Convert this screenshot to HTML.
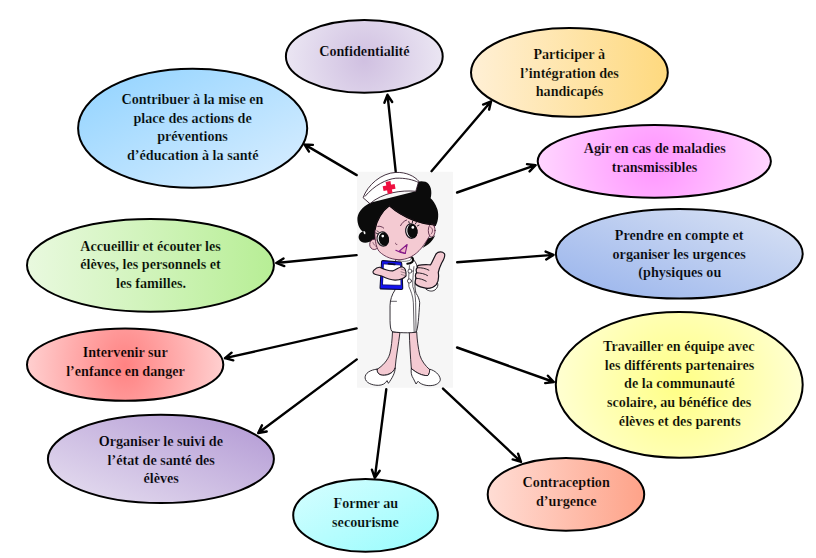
<!DOCTYPE html>
<html lang="fr">
<head>
<meta charset="utf-8">
<title>Missions de l’infirmière scolaire</title>
<style>
html,body{margin:0;padding:0;background:#fff;}
body{width:816px;height:558px;overflow:hidden;}
svg{display:block;}
.t{font-family:"Liberation Serif","Times New Roman",serif;font-weight:bold;font-size:14.15px;fill:#000;stroke-width:0.2px;}
.e{stroke:#000;stroke-width:2.0;}
.a{stroke:#000;stroke-width:2.4;fill:none;stroke-linecap:round;stroke-linejoin:round;}
</style>
</head>
<body>

<svg width="816" height="558" viewBox="0 0 816 558">
<defs>
<radialGradient id="g_conf" gradientUnits="userSpaceOnUse" cx="364.3" cy="60.4" r="79.4"><stop offset="0" stop-color="#d0c0e1"/><stop offset="1" stop-color="#ebe6f3"/></radialGradient>
<linearGradient id="g_contrib" gradientUnits="userSpaceOnUse" gradientTransform="matrix(231.10 0 0 121.00 77.10 67.80)" x1="0" y1="0" x2="1" y2="1"><stop offset="0" stop-color="#8fd2ff"/><stop offset="1" stop-color="#dcefff"/></linearGradient>
<linearGradient id="g_acc" gradientUnits="userSpaceOnUse" gradientTransform="matrix(248.90 0 0 94.80 26.00 217.90)" x1="0" y1="0" x2="1" y2="0"><stop offset="0" stop-color="#e9f9df"/><stop offset="1" stop-color="#b7ee95"/></linearGradient>
<radialGradient id="g_interv" gradientUnits="userSpaceOnUse" gradientTransform="translate(0 365.70) scale(1 1.3) translate(0 -365.70)" cx="125.15" cy="365.7" r="104.1"><stop offset="0" stop-color="#ff8282"/><stop offset="1" stop-color="#ffd4d4"/></radialGradient>
<linearGradient id="g_orga" gradientUnits="userSpaceOnUse" gradientTransform="matrix(228.00 0 0 90.20 46.90 413.80)" x1="1" y1="0" x2="0" y2="1"><stop offset="0" stop-color="#b096d3"/><stop offset="1" stop-color="#e8e1f1"/></linearGradient>
<linearGradient id="g_former" gradientUnits="userSpaceOnUse" gradientTransform="matrix(146.70 0 0 74.70 292.20 478.00)" x1="0" y1="0" x2="1" y2="1"><stop offset="0" stop-color="#d8feff"/><stop offset="1" stop-color="#96fcfd"/></linearGradient>
<linearGradient id="g_partic" gradientUnits="userSpaceOnUse" gradientTransform="matrix(198.80 0 0 90.80 470.00 27.00)" x1="0" y1="0" x2="1" y2="0"><stop offset="0" stop-color="#fff0d6"/><stop offset="1" stop-color="#fed97e"/></linearGradient>
<radialGradient id="g_agir" gradientUnits="userSpaceOnUse" cx="654.3" cy="161.35" r="117.6"><stop offset="0" stop-color="#ff94ff"/><stop offset="1" stop-color="#ffd6ff"/></radialGradient>
<linearGradient id="g_prendre" gradientUnits="userSpaceOnUse" gradientTransform="matrix(248.80 0 0 91.60 554.90 208.00)" x1="0" y1="1" x2="1" y2="0"><stop offset="0" stop-color="#96b2ec"/><stop offset="1" stop-color="#dce4f4"/></linearGradient>
<radialGradient id="g_trav" gradientUnits="userSpaceOnUse" cx="679.25" cy="384.85" r="124.5"><stop offset="0" stop-color="#ffff85"/><stop offset="1" stop-color="#ffffd2"/></radialGradient>
<linearGradient id="g_contra" gradientUnits="userSpaceOnUse" gradientTransform="matrix(158.50 0 0 74.80 486.70 457.00)" x1="0" y1="0" x2="1" y2="0"><stop offset="0" stop-color="#ffddd5"/><stop offset="1" stop-color="#fea288"/></linearGradient>
</defs>
<rect width="816" height="558" fill="#fff"/>
<g id="nurse">
<rect x="357.1" y="171.8" width="95.85" height="215.9" fill="#f6f6f6"/>
<g transform="translate(350,300) scale(0.134804)" stroke="#18141c" stroke-width="6.5" stroke-linejoin="round" stroke-linecap="round">
<!-- legs -->
<path fill="#f4cad2" d="M315 240 C312 300 308 350 295 400 C280 450 240 490 200 515 C200 545 220 560 255 558 C300 550 325 530 335 505 C340 430 360 330 370 245 Z"/>
<path fill="#f4cad2" d="M440 240 C442 320 448 420 455 508 C490 540 540 565 578 560 C590 545 592 530 590 515 C560 490 530 450 518 410 C505 350 498 300 495 240 Z"/>
<!-- shoes -->
<path fill="#fff" d="M200 513 C150 518 110 543 112 578 C115 613 160 633 210 633 C240 633 262 620 275 598 L285 618 C310 583 335 543 335 503 C320 540 290 556 255 558 C220 560 200 545 200 513 Z"/>
<path fill="#fff" d="M455 508 C450 533 455 563 470 583 L490 623 L505 603 C520 623 560 638 600 635 C640 633 670 613 670 588 C665 553 630 523 590 513 C592 530 590 545 578 560 C540 565 490 540 455 508 Z"/>
</g>
<g transform="translate(350,230) scale(0.134804)" stroke="#18141c" stroke-width="6.5" stroke-linejoin="round" stroke-linecap="round">
<!-- dress (torso + skirt) -->
<path fill="#fff" d="M340 215 C330 300 335 400 334 445 C310 480 298 520 297 560 L297 670 C298 710 300 735 310 751 C340 764 460 766 490 757 C505 735 510 640 517 540 C515 515 505 490 490 470 C480 440 480 400 485 380 L500 280 C495 250 480 225 460 210 Z"/>
<!-- cuff right -->
<path fill="#fff" d="M570 425 C600 435 630 420 650 395 C655 410 650 430 630 445 C610 458 585 455 565 440 Z"/>
<!-- placket -->
<path fill="none" stroke-width="5" d="M441 264 C436 320 434 380 437 420 C450 450 468 490 470 540 L476 757 M474 272 C468 330 464 390 466 420 C478 450 486 490 487 540 L490 755 M300 529 L345 529"/>
<circle cx="445" cy="305" r="15" fill="#fff" stroke-width="5"/>
<circle cx="441" cy="378" r="15" fill="#fff" stroke-width="5"/>
<!-- collar -->
<path fill="#fff" stroke-width="4" d="M335 210 C360 235 410 240 450 222 L455 205 Z"/>
<!-- stethoscope -->
<path fill="none" stroke="#0a0a0a" stroke-width="15" d="M425 250 C455 250 480 230 462 205"/>
<!-- clipboard -->
<path fill="#1414f0" stroke="#0a0a30" stroke-width="8" d="M245 227 L375 238 Q384 239 384 250 L391 430 Q391 442 380 441 L232 437 Q222 437 223 426 L234 238 Q235 226 245 227 Z"/>
<path fill="#fff" stroke="#0c0c50" stroke-width="5" d="M250 252 L374 260 L378 410 L244 407 Z"/>
<path fill="none" stroke="#0a0a30" stroke-width="13" d="M286 250 L332 255"/>
<!-- left arm -->
<path fill="#f4cad2" stroke-width="8" d="M176 300 C190 285 205 275 220 276 C250 290 290 305 320 303 C345 295 360 275 385 272 C405 275 418 300 416 340 C400 362 370 370 335 372 C300 372 260 355 235 342 L190 330 C170 325 165 312 176 300 Z"/>
<path fill="none" stroke-width="3" d="M380 290 L410 300 M378 310 L412 320 M380 330 L410 338"/>
<!-- right hand thumb up -->
<path fill="#f4cad2" stroke-width="9" d="M507 262 C540 255 575 258 598 258 C615 230 625 200 640 175 C655 160 685 158 700 175 C708 190 695 220 680 245 C668 270 660 290 655 315 C660 350 655 385 640 405 C615 430 580 438 545 428 C520 422 495 415 485 398 C480 380 488 365 490 355 C482 345 485 325 495 315 C488 300 492 285 500 278 C498 270 500 265 507 262 Z"/>
<path fill="none" stroke-width="7" d="M500 280 C530 278 560 285 585 298 M495 318 C525 318 555 325 575 338 M490 358 C520 360 545 368 565 380"/>
</g>
<g transform="translate(350,165) scale(0.134804)" stroke-linejoin="round" stroke-linecap="round">
<!-- hair back -->
<path fill="#0b0b0b" d="M150 280 C90 310 50 360 55 410 C58 450 75 480 95 495 C70 500 60 525 66 548 C75 575 110 585 140 572 C160 565 175 560 185 555 L634 452 C658 420 660 350 645 320 C635 290 615 262 598 247 C612 200 600 140 560 125 C535 118 515 120 505 125 L488 195 Z"/>
<path fill="#f5f5f5" d="M100 490 C108 488 118 498 114 512 C108 518 100 512 100 490 Z"/>
<!-- left ear -->
<ellipse cx="180" cy="589" rx="34" ry="38" fill="#f4cad2" stroke="#4a1838" stroke-width="6"/>
<!-- hair wedge under right ear -->
<path fill="#0b0b0b" d="M572 545 C590 545 615 535 632 522 C615 565 580 595 538 615 C555 590 568 568 572 545 Z"/>
<!-- face -->
<path fill="#f4cad2" stroke="#4a1838" stroke-width="6" d="M292 303 C240 340 195 410 186 480 C182 540 190 605 215 640 C260 685 320 705 378 702 C445 698 505 655 548 592 C580 545 610 500 630 445 C540 440 400 400 292 303 Z"/>
<path fill="none" stroke="#4a1838" stroke-width="4" d="M170 575 C175 590 185 600 195 605"/>
<!-- right ear -->
<ellipse cx="606" cy="486" rx="25" ry="48" fill="#f4cad2" stroke="#4a1838" stroke-width="6"/>
<path fill="none" stroke="#4a1838" stroke-width="5" d="M598 460 C615 470 618 495 602 512"/>
<!-- hairline overlay to hide face stroke at hair -->
<path fill="none" stroke="#0b0b0b" stroke-width="9" d="M186 480 C195 410 240 340 292 303 C400 400 540 440 634 447"/>
<!-- eyes -->
<ellipse cx="243" cy="549" rx="42" ry="53" fill="#fff" stroke="#1c1820" stroke-width="9" transform="rotate(-12 243 549)"/>
<ellipse cx="251" cy="550" rx="37" ry="50" fill="#0b0b0b" transform="rotate(-12 251 550)"/>
<circle cx="243" cy="527" r="10" fill="#fff"/>
<ellipse cx="455" cy="490" rx="42" ry="54" fill="#fff" stroke="#1c1820" stroke-width="9" transform="rotate(-8 455 490)"/>
<ellipse cx="463" cy="490" rx="38" ry="52" fill="#0b0b0b" transform="rotate(-8 463 490)"/>
<circle cx="466" cy="463" r="10" fill="#fff"/>
<!-- lashes -->
<path fill="none" stroke="#1c1820" stroke-width="7" d="M440 432 L436 420 M462 430 L464 418 M484 438 L492 426 M500 452 L512 446 M205 510 L192 504 M212 498 L202 488"/>
<!-- eyebrows -->
<path fill="none" stroke="#4a1838" stroke-width="6" d="M375 450 C385 430 400 415 420 408 M206 455 C222 452 238 458 250 468"/>
<!-- nose -->
<path fill="none" stroke="#4a1838" stroke-width="5" d="M338 580 C338 588 342 592 348 590"/>
<!-- mouth -->
<path fill="#f0b4c4" stroke="#851a88" stroke-width="8" d="M365 640 L424 590 L410 656 Z"/>
<path fill="none" stroke="#851a88" stroke-width="8" d="M340 633 C360 645 385 653 410 656"/>
<!-- hat -->
<path fill="#fff" stroke="#2a1626" stroke-width="6.5" d="M98 240 C130 150 230 60 340 55 C420 52 480 85 510 120 L488 195 C380 185 240 205 150 285 Z"/>
<path fill="none" stroke="#2a1626" stroke-width="6.5" d="M112 232 C180 150 270 105 340 98 C410 95 470 110 505 128"/>
<!-- red cross -->
<g transform="rotate(-10 290 167)" fill="#ee1040">
<rect x="272" y="122" width="36" height="90"/>
<rect x="245" y="149" width="90" height="36"/>
</g>
</g>
</g>

<g class="a">
<path d="M395.7 171.3L387.5 94.8M392.2 102.0L387.5 94.8L384.4 102.8"/>
<path d="M356.7 175.1L304.4 144.4M312.9 144.9L304.4 144.4L309.0 151.6"/>
<path d="M356.6 255.1L276.3 263.0M283.5 258.4L276.3 263.0L284.3 266.1"/>
<path d="M356.6 328.4L225.0 358.2M231.6 352.7L225.0 358.2L233.3 360.3"/>
<path d="M356.8 359.4L258.2 433.0M262.0 425.3L258.2 433.0L266.7 431.5"/>
<path d="M386.3 389.2L374.8 477.8M371.9 469.7L374.8 477.8L379.7 470.7"/>
<path d="M431.5 171.2L491.1 101.3M489.1 109.6L491.1 101.3L483.1 104.6"/>
<path d="M457.1 192.5L535.6 165.2M529.6 171.4L535.6 165.2L527.0 164.1"/>
<path d="M457.2 262.3L553.5 254.9M546.2 259.4L553.5 254.9L545.6 251.6"/>
<path d="M457.1 347.5L553.8 382.0M545.2 383.1L553.8 382.0L547.9 375.7"/>
<path d="M443.0 388.6L521.0 461.8M512.7 459.4L521.0 461.8L518.1 453.7"/>
</g>
<g class="e">
<ellipse cx="364.3" cy="56.4" rx="78.40" ry="36.40" fill="url(#g_conf)"/>
<ellipse cx="192.65" cy="128.3" rx="114.55" ry="59.50" fill="url(#g_contrib)"/>
<ellipse cx="150.45" cy="265.3" rx="123.45" ry="46.40" fill="url(#g_acc)"/>
<ellipse cx="125.15" cy="364.7" rx="98.15" ry="36.10" fill="url(#g_interv)"/>
<ellipse cx="160.9" cy="458.9" rx="113.00" ry="44.10" fill="url(#g_orga)"/>
<ellipse cx="365.55" cy="515.35" rx="72.35" ry="36.35" fill="url(#g_former)"/>
<ellipse cx="569.4" cy="72.4" rx="98.40" ry="44.40" fill="url(#g_partic)"/>
<ellipse cx="654.3" cy="161.35" rx="116.60" ry="36.35" fill="url(#g_agir)"/>
<ellipse cx="679.3" cy="253.8" rx="123.40" ry="44.80" fill="url(#g_prendre)"/>
<ellipse cx="679.25" cy="384.85" rx="123.45" ry="72.85" fill="url(#g_trav)"/>
<ellipse cx="565.95" cy="494.4" rx="78.25" ry="36.40" fill="url(#g_contra)"/>
</g>
<g class="t" text-anchor="middle">
<text x="364.4" y="55.7" stroke="url(#g_conf)">Confidentialité</text>
<text x="192.4" y="104.4" stroke="url(#g_contrib)">Contribuer à la mise en</text>
<text x="192.6" y="122.6" stroke="url(#g_contrib)">place des actions de</text>
<text x="192.5" y="141.0" stroke="url(#g_contrib)">préventions</text>
<text x="192.8" y="159.9" stroke="url(#g_contrib)">d’éducation à la santé</text>
<text x="150.5" y="250.9" stroke="url(#g_acc)">Accueillir et écouter les</text>
<text x="150.5" y="268.9" stroke="url(#g_acc)">élèves, les personnels et</text>
<text x="151.0" y="287.6" stroke="url(#g_acc)">les familles.</text>
<text x="125.2" y="356.5" stroke="url(#g_interv)">Intervenir sur</text>
<text x="125.5" y="375.5" stroke="url(#g_interv)">l’enfance en danger</text>
<text x="160.8" y="445.5" stroke="url(#g_orga)">Organiser le suivi de</text>
<text x="161.2" y="464.7" stroke="url(#g_orga)">l’état de santé des</text>
<text x="161.2" y="482.7" stroke="url(#g_orga)">élèves</text>
<text x="365.8" y="507.8" stroke="url(#g_former)">Former au</text>
<text x="365.5" y="527.0" stroke="url(#g_former)">secourisme</text>
<text x="569.2" y="59.0" stroke="url(#g_partic)">Participer à</text>
<text x="569.5" y="77.5" stroke="url(#g_partic)">l’intégration des</text>
<text x="569.5" y="96.0" stroke="url(#g_partic)">handicapés</text>
<text x="654.8" y="152.5" stroke="url(#g_agir)">Agir en cas de maladies</text>
<text x="654.5" y="172.0" stroke="url(#g_agir)">transmissibles</text>
<text x="679.2" y="240.0" stroke="url(#g_prendre)">Prendre en compte et</text>
<text x="679.2" y="258.7" stroke="url(#g_prendre)">organiser les urgences</text>
<text x="679.8" y="277.2" stroke="url(#g_prendre)">(physiques ou</text>
<text x="678.8" y="351.0" stroke="url(#g_trav)">Travailler en équipe avec</text>
<text x="679.5" y="369.8" stroke="url(#g_trav)">les différents partenaires</text>
<text x="679.5" y="388.0" stroke="url(#g_trav)">de la communauté</text>
<text x="679.2" y="407.3" stroke="url(#g_trav)">scolaire, au bénéfice des</text>
<text x="679.8" y="426.2" stroke="url(#g_trav)">élèves et des parents</text>
<text x="566.2" y="486.9" stroke="url(#g_contra)">Contraception</text>
<text x="566.2" y="506.1" stroke="url(#g_contra)">d’urgence</text>
</g>
</svg>
</body>
</html>
